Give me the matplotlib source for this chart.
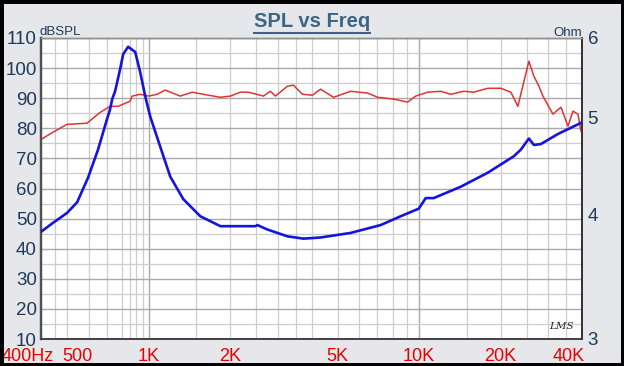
import matplotlib
matplotlib.use('Agg')
import matplotlib.pyplot as plt
from matplotlib.ticker import FixedLocator, NullLocator, NullFormatter
from matplotlib.lines import Line2D
from matplotlib.patches import Rectangle
from matplotlib.transforms import offset_copy

plt.rcParams['font.family'] = ['Liberation Sans', 'DejaVu Sans']

# SPL response (left axis, dBSPL)
spl_freq = [400, 443, 499, 592, 662, 720, 771, 854, 869, 930, 1000, 1076, 1151,
            1309, 1450, 1592, 1842, 2005, 2183, 2338, 2656, 2820, 2942, 3260, 3431,
            3705, 4034, 4320, 4825, 5580, 6450, 7023, 8053, 9072, 9710, 10757,
            12019, 13088, 14623, 15924, 17940, 20048, 21830, 23170, 25450, 26560,
            27720, 28680, 31230, 33450, 35490, 37040, 38650, 39660, 40000]
spl_db = [76.3, 78.7, 81.3, 81.7, 85.3, 87.3, 87.3, 89.0, 90.7, 91.3, 90.7, 91.3, 92.7,
          90.7, 92.0, 91.3, 90.3, 90.7, 92.0, 92.0, 90.7, 92.3, 90.7, 94.0, 94.3,
          91.3, 91.0, 93.0, 90.3, 92.3, 91.7, 90.3, 89.7, 88.7, 90.7, 92.0,
          92.3, 91.3, 92.3, 92.0, 93.3, 93.3, 92.0, 87.3, 102.3, 97.3,
          94.0, 90.7, 84.7, 87.0, 80.7, 85.7, 84.7, 79.0, 80.0]

# impedance (right axis, Ohm)
imp_freq = [400, 443, 499, 544, 597, 650, 702, 720, 733, 752, 785, 805, 840, 892,
            930, 971, 1013, 1104, 1202, 1343, 1552, 1842, 2057, 2481, 2524, 2750,
            3260, 3737, 4320, 5580, 7205, 8545, 9963, 10577, 11320, 14250, 17940,
            22390, 23770, 25450, 26560, 28190, 32590, 40000]
imp_ohm = [3.84, 3.92, 4.01, 4.11, 4.35, 4.64, 4.98, 5.09, 5.21, 5.31, 5.59, 5.78, 5.88, 5.81,
           5.55, 5.25, 5.01, 4.67, 4.36, 4.14, 3.98, 3.89, 3.89, 3.89, 3.90, 3.86,
           3.80, 3.78, 3.79, 3.83, 3.90, 3.98, 4.05, 4.15, 4.15, 4.26, 4.40,
           4.57, 4.64, 4.76, 4.69, 4.70, 4.81, 4.94]

x_ticks = [400, 500, 1000, 2000, 5000, 10000, 20000, 40000]
x_labels = ['400Hz', '500', '1K', '2K', '5K', '10K', '20K', '40K']
x_shift = [-13, 10, 0, 0, 0, 0, 0, -13]
db_ticks = list(range(10, 111, 10))
db_minor = list(range(15, 110, 10))
ohm_ticks = [3, 4, 5, 6]
grid_major = [1000, 10000]
grid_minor = [450, 500, 600, 700, 800, 850, 900, 950, 1500, 2000, 2500, 3000, 3500,
              4000, 5000, 6000, 7000, 8000, 9000, 15000, 20000, 25000, 30000, 35000]

bg = '#e6e7eb'
navy = '#1d3a5a'

fig = plt.figure(figsize=(6.24, 3.66), dpi=100, facecolor=bg)
ax = fig.add_axes([41 / 624, 1 - 339 / 366, 541 / 624, 301 / 366])
ax.set_facecolor('white')

ax.plot(spl_freq, spl_db, color='#e03333', lw=1.1, zorder=3)
ax.set_xscale('log')
ax.set_xlim(400, 40000)
ax.set_ylim(10, 110)

ax.xaxis.set_major_locator(FixedLocator(grid_major))
ax.xaxis.set_minor_locator(FixedLocator(grid_minor))
ax.xaxis.set_major_formatter(NullFormatter())
ax.xaxis.set_minor_formatter(NullFormatter())
ax.set_yticks(db_ticks)
ax.set_yticks(db_minor, minor=True)
ax.tick_params(which='both', length=0)
ax.tick_params(axis='y', labelsize=13.5, labelcolor=navy, pad=3)
ax.grid(which='major', color='#a9a9a9', lw=1.0)
ax.grid(which='minor', color='#cdcdcd', lw=0.9)
ax.set_axisbelow(True)

# x labels (a few nudged sideways like the original)
for f, lab, dx in zip(x_ticks, x_labels, x_shift):
    tr = offset_copy(ax.get_xaxis_transform(), fig=fig, x=dx, y=-9, units='dots')
    ax.text(f, 0, lab, transform=tr, ha='center', va='top', fontsize=13, color='#e80000')

ax2 = ax.twinx()
ax2.plot(imp_freq, imp_ohm, color='#1414dc', lw=1.9, zorder=4)
ax2.set_yscale('log')
ax2.set_ylim(3, 6)
ax2.yaxis.set_major_locator(FixedLocator(ohm_ticks))
ax2.yaxis.set_minor_locator(NullLocator())
ax2.set_yticklabels([str(t) for t in ohm_ticks])
ax2.tick_params(which='both', length=0, labelsize=13.5, labelcolor=navy, pad=4)

for a in (ax, ax2):
    a.spines['left'].set_color('#505050')
    a.spines['left'].set_linewidth(1.6)
    a.spines['bottom'].set_color('#404040')
    a.spines['bottom'].set_linewidth(1.2)
    a.spines['right'].set_color('#303030')
    a.spines['right'].set_linewidth(1.2)
    a.spines['top'].set_color('#909090')
    a.spines['top'].set_linewidth(1.0)

fig.text(40 / 624, 1 - 35 / 366, 'dBSPL', fontsize=9.5, color=navy, va='baseline', ha='left')
fig.text(582 / 624, 1 - 36 / 366, 'Ohm', fontsize=9.5, color=navy, va='baseline', ha='right')
ax.text(0.985, 0.025, 'LMS', transform=ax.transAxes, ha='right', va='bottom',
        fontsize=7.5, style='italic', family='DejaVu Serif', color='#222222')

title = fig.text(0.5, 1 - 27 / 366, 'SPL vs Freq', ha='center', va='baseline',
                 fontsize=14.5, weight='bold', color='#3d6480')
fig.canvas.draw()
bb = title.get_window_extent()
uy = bb.y0 + 1
fig.add_artist(Line2D([bb.x0, bb.x1], [uy - 3, uy - 3], transform=None,
                      color='#3d6480', lw=1.5))

fig.add_artist(Rectangle((0, 0), 1, 1, transform=fig.transFigure, fill=False,
                         ec='black', lw=5, clip_on=False))

fig.savefig('out.png', dpi=100, facecolor=bg)
